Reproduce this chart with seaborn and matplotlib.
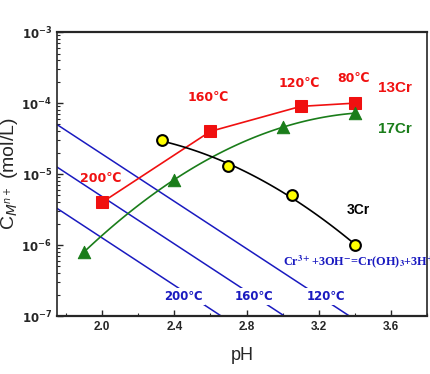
import numpy as np
import pandas as pd
import matplotlib
matplotlib.use("Agg")
import matplotlib.pyplot as plt
import seaborn as sns
from matplotlib.ticker import FixedLocator, MultipleLocator, LogLocator, NullFormatter

# data
ph_13cr = [2.0, 2.6, 3.1, 3.4]
c_13cr = [4.0e-6, 4.0e-5, 9.0e-5, 1.0e-4]
temps_13cr = ["200℃", "160℃", "120℃", "80℃"]
temp_lab_ph = [1.99, 2.59, 3.09, 3.39]
temp_lab_c = [8.7e-6, 1.2e-4, 1.9e-4, 2.2e-4]

ph_17cr = [1.9, 2.4, 3.0, 3.4]
c_17cr = [8.0e-7, 8.3e-6, 4.6e-5, 7.2e-5]

ph_3cr = [2.33, 2.7, 3.05, 3.4]
c_3cr = [3.0e-5, 1.3e-5, 5.0e-6, 1.0e-6]

# Cr(OH)3 equilibrium lines (end points)
eq_temps = ["200℃", "160℃", "120℃"]
eq_ph = [[1.75, 2.66], [1.75, 3.01], [1.75, 3.37]]
eq_c = [[3.3e-6, 1e-7], [1.26e-5, 1e-7], [5.0e-5, 1e-7]]
eq_label_ph = [2.45, 2.84, 3.24]

sns.set_style("ticks")
plt.rcParams['font.family'] = ['Liberation Sans', 'DejaVu Sans']

fig = plt.figure(figsize=(4.31, 3.74), dpi=100)
ax = fig.add_axes([0.132, 0.155, 0.859, 0.759])

red = "#f01010"
green = "#1a7d1a"
blue = "#1a1ac0"
narrow = ["Liberation Sans Narrow", "DejaVu Sans"]

# equilibrium lines
for t, xs, ys, lx in zip(eq_temps, eq_ph, eq_c, eq_label_ph):
    sns.lineplot(x=xs, y=ys, ax=ax, color=blue, lw=1.1, estimator=None, sort=False)
    ax.text(lx, 1.9e-7, t, color=blue, fontsize=8.5, fontweight="bold", ha="center", va="center",
            family=narrow, bbox=dict(facecolor="white", edgecolor="none", pad=1.5), zorder=4)

# 13Cr - straight segments
df13 = pd.DataFrame({"pH": ph_13cr, "C": c_13cr})
sns.lineplot(data=df13, x="pH", y="C", ax=ax, color=red, lw=1.2, marker="s", markersize=8,
             markeredgecolor=red, estimator=None, sort=False, zorder=5)

# 17Cr and 3Cr - smooth curves fitted in log space
def smooth(xs, ys):
    p = np.polyfit(xs, np.log10(ys), 2)
    xx = np.linspace(min(xs), max(xs), 100)
    return xx, 10 ** np.polyval(p, xx)

xx, yy = smooth(ph_17cr, c_17cr)
sns.lineplot(x=xx, y=yy, ax=ax, color=green, lw=1.2, estimator=None, sort=False, zorder=5)
sns.scatterplot(x=ph_17cr, y=c_17cr, ax=ax, color=green, marker="^", s=80, edgecolor=green, zorder=6)

xx, yy = smooth(ph_3cr, c_3cr)
sns.lineplot(x=xx, y=yy, ax=ax, color="black", lw=1.2, estimator=None, sort=False, zorder=5)
sns.scatterplot(x=ph_3cr, y=c_3cr, ax=ax, color="#ffff00", marker="o", s=60, edgecolor="black",
                linewidth=1.5, zorder=6)

# temperature labels for 13Cr
for t, x, y in zip(temps_13cr, temp_lab_ph, temp_lab_c):
    ax.text(x, y, t, color=red, fontsize=9, fontweight="bold", ha="center", va="center", family=narrow)

ax.text(3.62, 1.65e-4, "13Cr", color=red, fontsize=11, fontweight="bold", ha="center", va="center")
ax.text(3.62, 4.3e-5, "17Cr", color=green, fontsize=11, fontweight="bold", ha="center", va="center")
ax.text(3.42, 3.1e-6, "3Cr", color="black", fontsize=10, fontweight="bold", ha="center", va="center")

ax.text(3.0, 5.8e-7, r"Cr$^{\mathbf{3+}}$+3OH$^{\mathbf{-}}$=Cr(OH)$_{\mathbf{3}}$+3H$^{\mathbf{+}}$",
        color=blue, fontsize=8.8, fontweight="bold", ha="left", va="center",
        family=["Liberation Serif"], math_fontfamily="stix", clip_on=False, zorder=7)

ax.set_yscale("log")
ax.set_xlim(1.75, 3.8)
ax.set_ylim(1e-7, 1e-3)

ax.xaxis.set_major_locator(FixedLocator([2.0, 2.4, 2.8, 3.2, 3.6]))
ax.xaxis.set_minor_locator(MultipleLocator(0.2))
ax.set_xticklabels(["2.0", "2.4", "2.8", "3.2", "3.6"], fontweight="bold", fontsize=8.5)
ax.yaxis.set_major_locator(FixedLocator([1e-7, 1e-6, 1e-5, 1e-4, 1e-3]))
ax.set_yticklabels([r"$\mathbf{10^{-%d}}$" % k for k in [7, 6, 5, 4, 3]], fontsize=8.5)
ax.yaxis.set_minor_locator(LogLocator(base=10, subs=np.arange(2, 10)))
ax.yaxis.set_minor_formatter(NullFormatter())

ax.tick_params(axis="both", which="both", direction="in", top=False, right=False)
ax.tick_params(axis="both", which="major", length=4, width=1)
ax.tick_params(axis="both", which="minor", length=2, width=0.8)

for side in ["top", "right"]:
    ax.spines[side].set_visible(True)
ax.spines["top"].set_linewidth(1.6)
ax.spines["bottom"].set_linewidth(1.6)
ax.spines["left"].set_linewidth(1.2)
ax.spines["right"].set_linewidth(1.2)

ax.set_xlabel("pH", fontsize=13, labelpad=10)
ax.set_ylabel(r"C$_{M^{n+}}$ (mol/L)", fontsize=14, labelpad=1)

fig.savefig("out.png", dpi=100)
